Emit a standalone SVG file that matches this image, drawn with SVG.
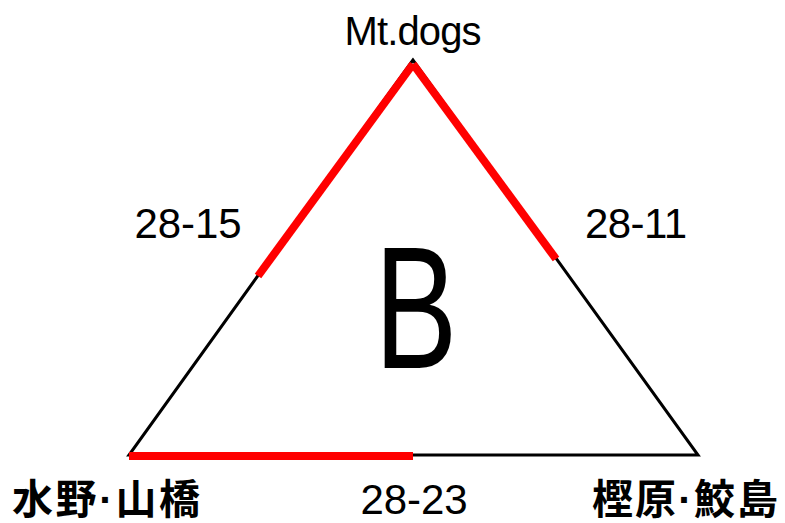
<svg xmlns="http://www.w3.org/2000/svg" width="785" height="523" viewBox="0 0 785 523">
<style>
.lbl{font-family:"Liberation Sans",Arial,sans-serif;font-size:42px;fill:#000}
.cjk{font-family:"Liberation Sans","Noto Sans CJK JP",sans-serif;font-size:41px;font-weight:bold;fill:#000}
.edge{stroke:#000;stroke-width:3;fill:none}
.hl{stroke:#ff0000;stroke-width:8;fill:none}
</style>
<rect width="785" height="523" fill="#fff"/>
<g id="connectors">
<polygon class="edge" points="413,60 129,455 698,455" stroke-linejoin="miter"/>
<line class="hl" x1="413" y1="64" x2="258" y2="276"/>
<line class="hl" x1="413" y1="64" x2="556" y2="259"/>
<line class="hl" x1="129" y1="456" x2="413" y2="456"/>
<text class="lbl" x="188" y="238" text-anchor="middle" textLength="107">28-15</text>
<text class="lbl" x="636" y="238" text-anchor="middle" textLength="102">28-11</text>
<text class="lbl" x="414" y="514" text-anchor="middle" textLength="107">28-23</text>
</g>
<g id="node-top"><text class="lbl" x="413" y="45" text-anchor="middle" style="font-size:40px" textLength="137">Mt.dogs</text></g>
<g id="node-left"><text class="cjk" x="12" y="514" textLength="188">水野·山橋</text></g>
<g id="node-right"><text class="cjk" x="592" y="514" textLength="186">樫原·鮫島</text></g>
<g id="center"><text class="lbl" transform="translate(416,368) scale(0.71,1)" text-anchor="middle" style="font-size:175px">B</text></g>
</svg>
